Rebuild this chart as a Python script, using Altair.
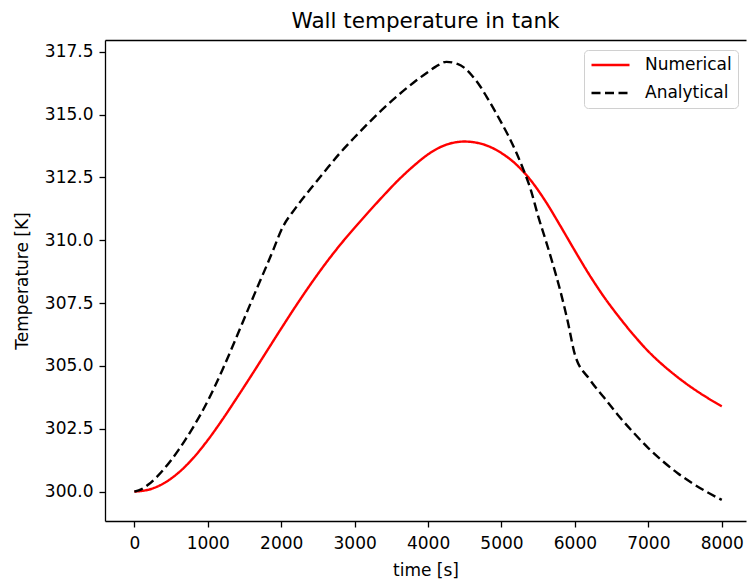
import altair as alt
import pandas as pd

# Numerical solution: wall temperature [K] over time [s]
num_time = [0, 200, 400, 600, 800, 1000, 1200, 1400, 1600, 1800, 2000, 2200, 2400,
            2600, 2800, 3000, 3200, 3400, 3600, 3800, 4000, 4200, 4400, 4500, 4600,
            4800, 5000, 5200, 5400, 5600, 5800, 6000, 6200, 6400, 6600, 6800, 7000,
            7200, 7400, 7600, 7800, 8000]
num_temp = [300.00, 300.08, 300.33, 300.75, 301.33, 302.05, 302.87, 303.75, 304.65,
            305.57, 306.49, 307.39, 308.25, 309.06, 309.81, 310.50, 311.16, 311.80,
            312.41, 312.95, 313.42, 313.75, 313.91, 313.93, 313.91, 313.77, 313.47,
            313.02, 312.38, 311.55, 310.58, 309.58, 308.61, 307.73, 306.95, 306.23,
            305.58, 305.03, 304.55, 304.12, 303.74, 303.39]

# Analytical solution
ana_time = [0, 100, 200, 300, 400, 500, 600, 700, 800, 900, 1000, 1100, 1200, 1300,
            1400, 1500, 1600, 1700, 1800, 1900, 2000, 2200, 2400, 2600, 2800, 3000,
            3200, 3400, 3600, 3800, 4000, 4100, 4250, 4400, 4500, 4600, 4700, 4800,
            4900, 5000, 5100, 5200, 5300, 5400, 5500, 5600, 5700, 5800, 5900, 6000,
            6200, 6400, 6600, 6800, 7000, 7200, 7400, 7600, 7800, 8000]
ana_temp = [300.00, 300.10, 300.30, 300.57, 300.89, 301.25, 301.65, 302.09, 302.56,
            303.06, 303.61, 304.21, 304.85, 305.52, 306.21, 306.91, 307.61, 308.30,
            308.98, 309.68, 310.40, 311.30, 312.05, 312.77, 313.47, 314.10, 314.70,
            315.27, 315.79, 316.27, 316.70, 316.90, 317.10, 317.02, 316.85, 316.55,
            316.17, 315.70, 315.20, 314.67, 314.12, 313.50, 312.80, 312.00, 310.95,
            310.02, 309.05, 308.00, 306.80, 305.45, 304.47, 303.73, 303.00, 302.34,
            301.73, 301.20, 300.73, 300.33, 299.98, 299.67]

series_names = ["Numerical", "Analytical"]
series_colors = ["#ff0000", "#000000"]
series_dashes = [[1, 0], [9, 4.5]]

x_ticks = [0, 1000, 2000, 3000, 4000, 5000, 6000, 7000, 8000]
y_ticks = [300.0, 302.5, 305.0, 307.5, 310.0, 312.5, 315.0, 317.5]

df = pd.concat([
    pd.DataFrame({"time": num_time, "temp": num_temp, "series": series_names[0]}),
    pd.DataFrame({"time": ana_time, "temp": ana_temp, "series": series_names[1]}),
], ignore_index=True)

FONT = "DejaVu Sans"
x_scale = alt.Scale(domain=[-400, 8330], nice=False, zero=False)
y_scale = alt.Scale(domain=[298.83, 317.97], nice=False, zero=False)

legend_opts = dict(
    title=None, orient="none", legendX=479, legendY=10,
    symbolType="stroke", symbolSize=1444, symbolStrokeWidth=2.4,
    labelFont=FONT, labelFontSize=17, labelColor="black", labelOffset=14,
    clipHeight=18, rowPadding=10, padding=6, fillColor="white",
    strokeColor="#d0d0d0", cornerRadius=4,
)

lines = alt.Chart(df).mark_line(strokeWidth=2.4, interpolate="monotone").encode(
    x=alt.X("time:Q", scale=x_scale,
            axis=alt.Axis(values=x_ticks, format="d", title="time [s]")),
    y=alt.Y("temp:Q", scale=y_scale,
            axis=alt.Axis(values=y_ticks, format=".1f", title="Temperature [K]")),
    color=alt.Color("series:N",
                    scale=alt.Scale(domain=series_names, range=series_colors),
                    legend=alt.Legend(**legend_opts)),
    strokeDash=alt.StrokeDash("series:N",
                              scale=alt.Scale(domain=series_names, range=series_dashes),
                              legend=alt.Legend(**legend_opts)),
)

# top spine of the axes box
top_spine = alt.Chart(df).mark_point(opacity=0).encode(
    x=alt.X("time:Q", scale=x_scale,
            axis=alt.Axis(orient="top", labels=False, ticks=False, title=None,
                          domain=True)),
    y=alt.Y("temp:Q", scale=y_scale),
)

chart = alt.layer(lines, top_spine).resolve_axis(x="independent").properties(
    width=641,
    height=481,
    title=alt.Title("Wall temperature in tank", font=FONT, fontSize=21.5,
                    fontWeight="normal", color="black", anchor="middle",
                    baseline="alphabetic", offset=3, dy=12),
    autosize=alt.AutoSizeParams(type="none"),
    padding={"left": 105, "top": 40, "right": 1, "bottom": 59},
    background="white",
).configure_view(
    strokeWidth=0,
).configure_axis(
    labelFont=FONT, labelFontSize=17, labelColor="black",
    titleFont=FONT, titleFontSize=17, titleFontWeight="normal", titleColor="black",
    domainColor="black", domainWidth=1.3, tickColor="black", tickWidth=1.3,
    tickSize=6, labelPadding=6, grid=False,
).configure_axisX(
    labelPadding=8, titlePadding=11,
).configure_axisY(
    titlePadding=13,
)

chart.save("out.html", embed_options={"renderer": "svg", "actions": False})
